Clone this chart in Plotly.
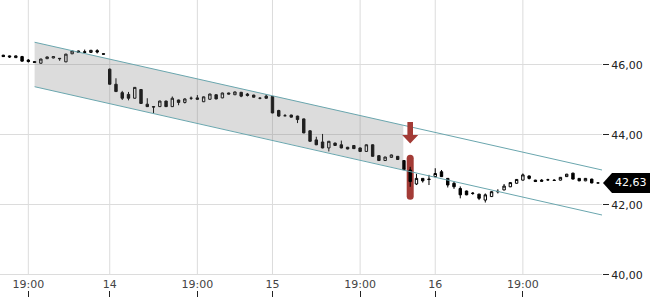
import plotly.graph_objects as go

# ---- data (15-minute candles, index positions along a trading-time axis) ----
idx = list(range(96))
opens = [46.28, 46.26, 46.21, 46.24, 46.14, 46.10, 46.05, 46.18, 46.20, 46.19,
         46.09, 46.32, 46.40, 46.38, 46.36, 46.41, 46.32,
         45.88, 45.45, 45.21, 45.16, 45.05, 45.30, 44.88, 44.81, 44.81, 44.97,
         44.81, 45.00, 44.93, 45.05, 45.06, 44.95, 45.02, 45.15, 45.06, 45.20,
         45.15, 45.22, 45.17, 45.14, 45.05, 45.11,
         45.10, 44.70, 44.55, 44.57, 44.54, 44.46, 44.12, 43.86, 43.80, 43.63,
         43.77, 43.72, 43.65, 43.70, 43.63, 43.53, 43.72, 43.41, 43.27, 43.36,
         43.39, 43.27, 43.00, 42.60, 42.76, 42.74,
         42.81, 42.95, 42.76, 42.62, 42.47, 42.40, 42.34, 42.31, 42.14, 42.24,
         42.39, 42.43, 42.52, 42.62, 42.71, 42.83, 42.71, 42.71, 42.72, 42.71,
         42.71, 42.81, 42.91, 42.76, 42.69, 42.74, 42.63]
highs = [46.29, 46.27, 46.27, 46.26, 46.17, 46.11, 46.18, 46.24, 46.25, 46.20,
         46.32, 46.41, 46.41, 46.44, 46.43, 46.45, 46.32,
         45.90, 45.62, 45.26, 45.23, 45.37, 45.31, 45.05, 44.82, 44.98, 44.98,
         45.10, 45.01, 45.05, 45.10, 45.14, 45.10, 45.18, 45.16, 45.21, 45.21,
         45.24, 45.23, 45.20, 45.15, 45.08, 45.17,
         45.11, 44.72, 44.60, 44.58, 44.55, 44.47, 44.13, 43.95, 44.03, 43.83,
         43.78, 43.84, 43.66, 43.71, 43.64, 43.73, 43.73, 43.42, 43.38, 43.44,
         43.40, 43.28, 43.09, 42.89, 42.77, 42.86,
         43.05, 43.00, 42.77, 42.67, 42.53, 42.41, 42.37, 42.32, 42.33, 42.39,
         42.45, 42.60, 42.65, 42.74, 42.90, 42.84, 42.72, 42.74, 42.75, 42.74,
         42.80, 42.89, 42.92, 42.77, 42.77, 42.75, 42.63]
lows = [46.23, 46.20, 46.20, 46.10, 46.07, 46.06, 46.04, 46.17, 46.19, 46.12,
        46.08, 46.31, 46.35, 46.35, 46.35, 46.33, 46.31,
        45.44, 45.23, 45.00, 44.99, 45.04, 44.89, 44.80, 44.62, 44.80, 44.80,
        44.80, 44.85, 44.90, 45.00, 45.01, 44.94, 45.01, 45.02, 45.05, 45.16,
        45.14, 45.08, 45.10, 45.07, 45.02, 45.04,
        44.62, 44.52, 44.54, 44.50, 44.34, 44.05, 43.81, 43.71, 43.62, 43.53,
        43.69, 43.62, 43.59, 43.60, 43.52, 43.52, 43.38, 43.26, 43.26, 43.35,
        43.29, 43.00, 42.52, 42.57, 42.64, 42.57,
        42.80, 42.80, 42.50, 42.46, 42.19, 42.28, 42.29, 42.14, 42.07, 42.23,
        42.33, 42.42, 42.51, 42.61, 42.70, 42.73, 42.66, 42.67, 42.69, 42.69,
        42.70, 42.80, 42.73, 42.68, 42.68, 42.62, 42.63]
closes = [46.24, 46.23, 46.26, 46.11, 46.10, 46.07, 46.17, 46.23, 46.24, 46.18,
          46.31, 46.40, 46.36, 46.36, 46.42, 46.37, 46.31,
          45.45, 45.24, 45.05, 45.05, 45.36, 44.90, 44.81, 44.80, 44.97, 44.81,
          45.05, 44.93, 45.03, 45.05, 45.02, 45.09, 45.17, 45.03, 45.20, 45.17,
          45.23, 45.11, 45.13, 45.08, 45.05, 45.05,
          44.63, 44.54, 44.55, 44.51, 44.44, 44.06, 43.82, 43.72, 43.63, 43.82,
          43.70, 43.63, 43.60, 43.61, 43.53, 43.72, 43.39, 43.27, 43.37, 43.43,
          43.30, 43.01, 42.67, 42.76, 42.69, 42.73,
          42.90, 42.81, 42.57, 42.52, 42.29, 42.29, 42.33, 42.19, 42.29, 42.38,
          42.38, 42.54, 42.64, 42.73, 42.86, 42.76, 42.67, 42.68, 42.72, 42.70,
          42.79, 42.88, 42.74, 42.69, 42.76, 42.63, 42.63]

tick_idx = [4, 17, 31, 43, 57, 69, 83]
tick_text = ["19:00", "14", "19:00", "15", "19:00", "16", "19:00"]

# trend channel
chan_x = [5.0, 95.64]
chan_upper = [46.65, 43.00]
chan_lower = [45.38, 41.714]
fill_x = [5.0, 63.9]
fill_upper = [46.65, 44.28]
fill_lower = [45.38, 43.01]

signal_idx = 65
signal_arrow_y = 43.76
signal_mid_y = 42.79
last_price = 42.63

# ---- figure ----
BLACK = "#000000"
RED = "#a33b36"
TEAL = "#6aa6ae"
GRID = "#dcdcdc"

fig = go.Figure()

# channel fill
fig.add_trace(go.Scatter(x=fill_x, y=fill_upper, mode="lines",
                         line=dict(width=0), hoverinfo="skip", showlegend=False))
fig.add_trace(go.Scatter(x=fill_x, y=fill_lower, mode="lines", fill="tonexty",
                         fillcolor="rgba(120,120,120,0.26)",
                         line=dict(width=0), hoverinfo="skip", showlegend=False))
# channel lines
fig.add_trace(go.Scatter(x=chan_x, y=chan_upper, mode="lines",
                         line=dict(color=TEAL, width=1), showlegend=False))
fig.add_trace(go.Scatter(x=chan_x, y=chan_lower, mode="lines",
                         line=dict(color=TEAL, width=1), showlegend=False))

fig.add_trace(go.Candlestick(
    x=idx, open=opens, high=highs, low=lows, close=closes,
    increasing=dict(fillcolor="#ffffff", line=dict(color=BLACK, width=1)),
    decreasing=dict(fillcolor=BLACK, line=dict(color=BLACK, width=1)),
    whiskerwidth=0, showlegend=False))

shapes = []
# vertical gridlines (stop at the 40 line)
for t in tick_idx:
    shapes.append(dict(type="line", xref="x", yref="y", x0=t, x1=t, y0=40, y1=48,
                       line=dict(color=GRID, width=1), layer="below"))

# highlighted candle (rounded red bar)
shapes.append(dict(type="path", xref="x", yref="y", xsizemode="pixel", ysizemode="pixel",
                   xanchor=signal_idx, yanchor=signal_mid_y,
                   path="M -3.5,19 Q -3.5,22.5 0,22.5 Q 3.5,22.5 3.5,19 L 3.5,-19 "
                        "Q 3.5,-22.5 0,-22.5 Q -3.5,-22.5 -3.5,-19 Z",
                   fillcolor=RED, line=dict(width=0), layer="below"))
# down arrow
shapes.append(dict(type="path", xref="x", yref="y", xsizemode="pixel", ysizemode="pixel",
                   xanchor=signal_idx, yanchor=signal_arrow_y,
                   path="M 0,0 L -8,8.5 L -2.8,8.5 L -2.8,21.5 L 2.8,21.5 L 2.8,8.5 L 8,8.5 Z",
                   fillcolor=RED, line=dict(width=0), layer="above"))
# last price tag
shapes.append(dict(type="path", xref="paper", yref="y", xsizemode="pixel", ysizemode="pixel",
                   xanchor=1, yanchor=last_price,
                   path="M 1,0 L 10,10 L 48,10 L 48,-10 L 10,-10 Z",
                   fillcolor=BLACK, line=dict(width=0), layer="above"))

fig.add_annotation(xref="paper", yref="y", x=1, y=last_price, xanchor="left",
                   xshift=11, text=f"{last_price:.2f}".replace(".", ","), showarrow=False,
                   font=dict(color="#ffffff", size=11, family="DejaVu Sans"))

fig.update_layout(
    width=650, height=300,
    margin=dict(l=0, r=48, t=0, b=3),
    paper_bgcolor="#ffffff", plot_bgcolor="#ffffff",
    font=dict(family="DejaVu Sans", size=11, color="#222222"),
    separators=",.",
    boxgap=0.45,
    shapes=shapes,
    xaxis=dict(range=[-0.527, 95.64], showgrid=False, zeroline=False, showline=False,
               tickmode="array", tickvals=tick_idx, ticktext=tick_text,
               ticks="inside", ticklen=6, tickcolor="#222222", tickwidth=1,
               ticklabelposition="inside", rangeslider=dict(visible=False)),
    yaxis=dict(side="right", range=[39.371, 47.857], tick0=40, dtick=2,
               tickformat=".2f", showgrid=True, gridcolor=GRID, zeroline=False,
               showline=False, ticks="outside", ticklen=6, tickcolor="#222222"),
)

fig.write_html("out.html")
